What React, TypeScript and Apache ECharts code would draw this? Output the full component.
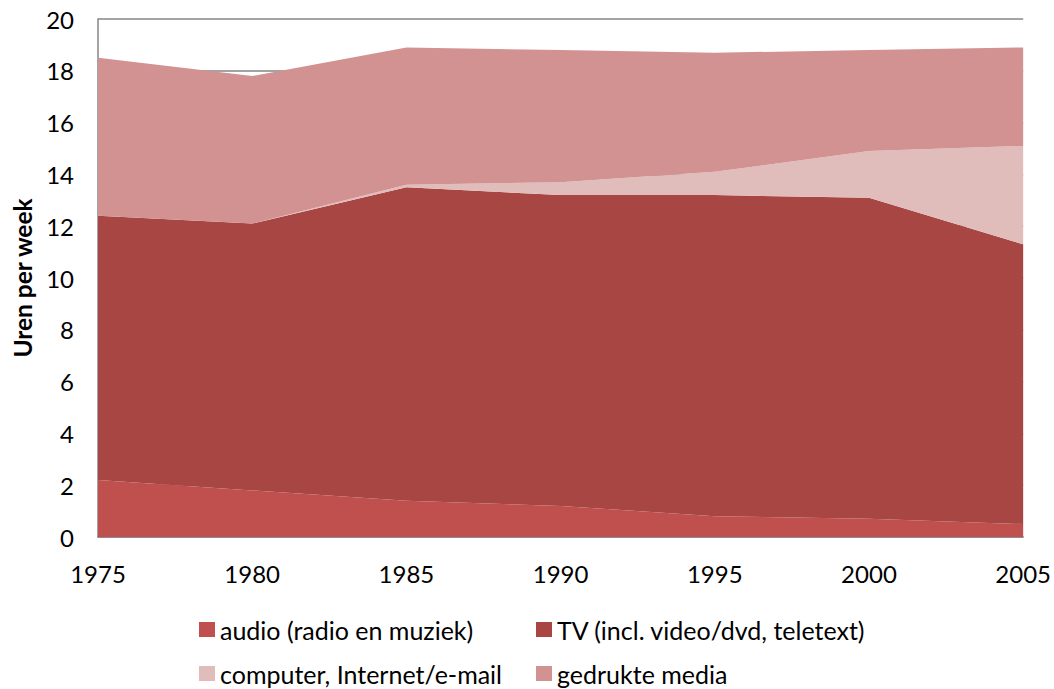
import React, { useEffect, useRef } from "react";
import * as echarts from "echarts";

const years = ["1975", "1980", "1985", "1990", "1995", "2000", "2005"];
const audio = [2.2, 1.8, 1.4, 1.2, 0.8, 0.7, 0.5];
const tv = [10.2, 10.3, 12.1, 12.0, 12.4, 12.4, 10.8];
const computer = [0, 0, 0.1, 0.5, 0.9, 1.8, 3.8];
const gedrukt = [6.1, 5.7, 5.3, 5.1, 4.6, 3.9, 3.8];

const names = [
  "audio (radio en muziek)",
  "TV (incl. video/dvd, teletext)",
  "computer, Internet/e-mail",
  "gedrukte media",
];
const colors = ["#C0504D", "#A84644", "#E0BCBB", "#D29291"];

const FONT = "Lato, 'Open Sans', sans-serif";

const legendPos = [
  { left: 199, top: 617 },
  { left: 536, top: 617 },
  { left: 199, top: 661 },
  { left: 536, top: 661 },
];

export default function App() {
  const ref = useRef<HTMLDivElement>(null);
  useEffect(() => {
    const chart = echarts.init(ref.current!, null, { renderer: "svg" });
    const data = [audio, tv, computer, gedrukt];
    chart.setOption({
      animation: false,
      textStyle: { fontFamily: FONT },
      grid: { left: 98, right: 29, top: 19, bottom: 152 },
      legend: names.map((n, i) => ({
        data: [n],
        orient: "horizontal",
        left: legendPos[i].left,
        top: legendPos[i].top,
        padding: 0,
        itemWidth: 16,
        itemHeight: 15,
        itemGap: 0,
        icon: "rect",
        selectedMode: false,
        textStyle: { fontFamily: FONT, fontSize: 25, color: "#000", padding: [0, 0, 0, 0] },
      })),
      xAxis: {
        type: "category",
        data: years,
        boundaryGap: false,
        axisLine: { lineStyle: { color: "#868686", width: 1.5 } },
        axisTick: { show: false },
        axisLabel: { fontSize: 24, color: "#000", margin: 24, fontFamily: FONT },
        splitLine: { show: false },
      },
      yAxis: {
        type: "value",
        min: 0,
        max: 20,
        interval: 2,
        name: "Uren per week",
        nameLocation: "middle",
        nameGap: 61,
        nameTextStyle: { fontSize: 24.5, fontWeight: "bold", color: "#000", fontFamily: FONT },
        axisLine: { show: true, lineStyle: { color: "#868686", width: 1.5 } },
        axisTick: { show: false },
        axisLabel: { fontSize: 24, color: "#000", margin: 24, fontFamily: FONT },
        splitLine: { show: true, lineStyle: { color: "#868686", width: 1.5 } },
      },
      series: data.map((d, i) => ({
        name: names[i],
        type: "line",
        stack: "total",
        data: d,
        symbol: "none",
        lineStyle: { width: 0 },
        areaStyle: { color: colors[i], opacity: 1 },
        itemStyle: { color: colors[i] },
        z: 3,
      })),
    });
    return () => chart.dispose();
  }, []);
  return <div ref={ref} style={{ width: 1054, height: 689, position: "absolute", left: 0, top: 0 }} />;
}
